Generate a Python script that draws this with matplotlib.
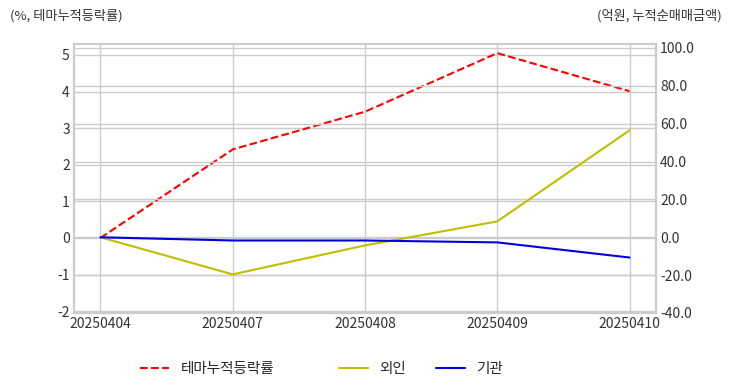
import matplotlib
matplotlib.use("Agg")
import matplotlib.pyplot as plt

plt.style.use("seaborn-v0_8-whitegrid")
plt.rcParams['font.family'] = ['Noto Sans CJK KR', 'DejaVu Sans']
plt.rcParams['axes.unicode_minus'] = False

dates = ["20250404", "20250407", "20250408", "20250409", "20250410"]
theme_ret = [0.0, 2.42, 3.45, 5.05, 4.01]
foreign = [0.0, -19.6, -4.3, 8.4, 56.5]
inst = [0.0, -1.7, -1.7, -2.7, -10.7]

fig = plt.figure(figsize=(7.32, 3.92), dpi=100)
ax1 = fig.add_axes([74/732, 1-313/392, (656-74)/732, (313-44)/392])
ax2 = ax1.twinx()

x = list(range(len(dates)))
l1, = ax1.plot(x, theme_ret, color='r', linestyle='--', linewidth=1.5, label='테마누적등락률')
l2, = ax2.plot(x, foreign, color='y', linewidth=1.5, label='외인')
l3, = ax2.plot(x, inst, color='#0000dd', linewidth=1.5, label='기관')

ax1.set_xlim(-0.2, 4.2)
ax1.set_ylim(-2.05, 5.30)
ax2.set_ylim(-40, 102.1)
ax1.set_xticks(x)
ax1.set_xticklabels(dates)
ax1.set_yticks(range(-2, 6))
ax2.set_yticks(range(-40, 101, 20))
ax2.set_yticklabels([f"{v:.1f}" for v in range(-40, 101, 20)])

gridc = '#cccccc'
for ax in (ax1, ax2):
    ax.grid(True, color=gridc, linewidth=1)
    ax.tick_params(labelsize=10, colors='#333333', length=0, pad=3)
    for s in ax.spines.values():
        s.set_visible(True)
        s.set_color(gridc)
        s.set_linewidth(1.5)
ax2.grid(True, axis='y', color=gridc, linewidth=1)
ax2.grid(False, axis='x')

fig.text(10/732, 1-16/392, "(%, 테마누적등락률)", fontsize=9.5, color='#333333', va='center', ha='left')
fig.text(722/732, 1-16/392, "(억원, 누적순매매금액)", fontsize=9.5, color='#333333', va='center', ha='right')

leg1 = fig.legend(handles=[l1], loc='center', bbox_to_anchor=(207/732, 1-369/392), frameon=False, fontsize=10.5)
leg2 = fig.legend(handles=[l2, l3], loc='center', bbox_to_anchor=(421/732, 1-369/392), ncol=2, frameon=False, fontsize=10.5, columnspacing=2.0)

fig.savefig("out.png", dpi=100)
